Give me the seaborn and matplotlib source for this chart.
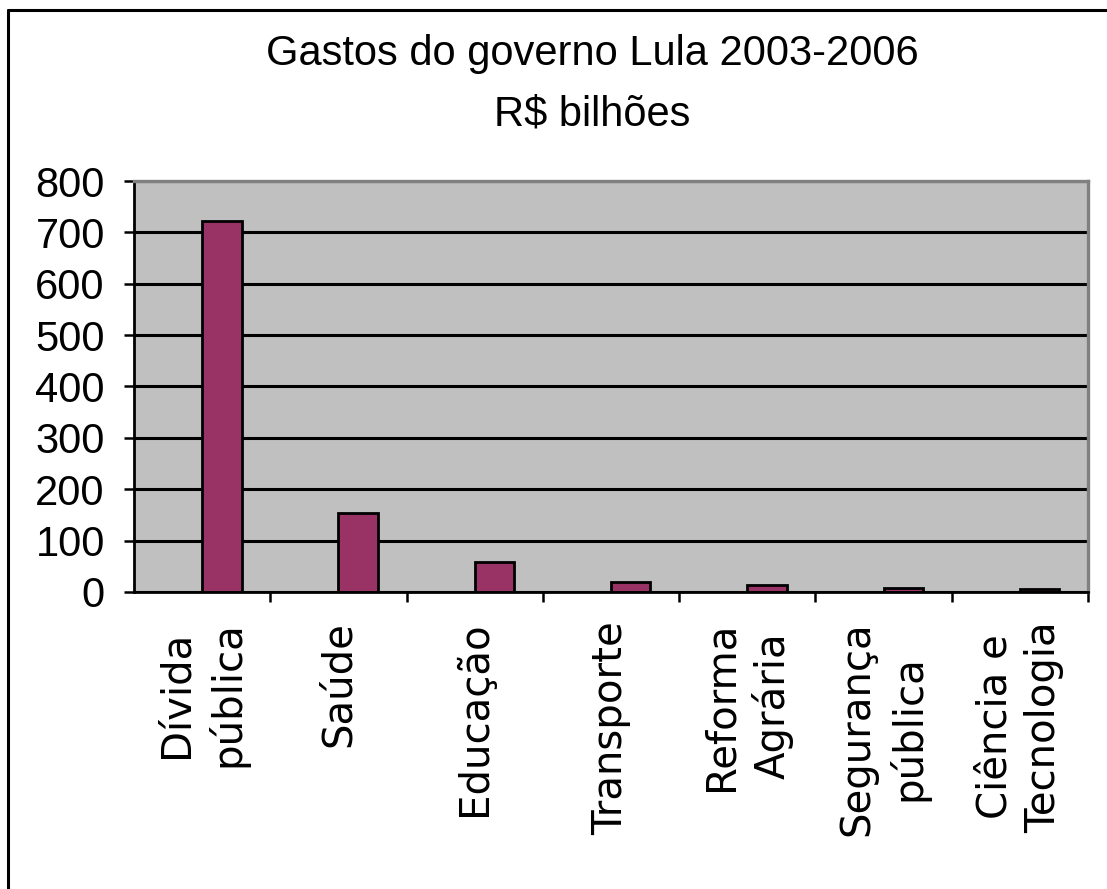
import matplotlib
matplotlib.use('Agg')
import matplotlib.pyplot as plt
from matplotlib.lines import Line2D
import seaborn as sns
import pandas as pd

# Gastos do governo Lula 2003-2006 (R$ bilhoes)
categorias = ['Dívida\npública', 'Saúde', 'Educação', 'Transporte',
              'Reforma\nAgrária', 'Segurança\npública', 'Ciência e\nTecnologia']
gastos = [722, 154, 58, 20, 14, 7, 6]
series = ['Série 1', 'Série 2']   # a serie 1 esta vazia no original
yticks = [0, 100, 200, 300, 400, 500, 600, 700, 800]

sns.set_style('white')
plt.rcParams['text.color'] = 'black'
plt.rcParams['xtick.color'] = 'black'
plt.rcParams['ytick.color'] = 'black'
narrow = ['Liberation Sans Narrow', 'Liberation Sans', 'DejaVu Sans']

df = pd.DataFrame({
    'categoria': categorias * 2,
    'serie': [series[0]] * len(categorias) + [series[1]] * len(categorias),
    'valor': [float('nan')] * len(categorias) + gastos,
})

fig = plt.figure(figsize=(11.07, 8.89), dpi=100)
ax = fig.add_axes([0.1210, 0.3341, 0.8618, 0.4623])
ax.set_facecolor('#c0c0c0')

sns.barplot(data=df, x='categoria', y='valor', hue='serie', hue_order=series,
            order=categorias, palette=['#993366', '#993366'], saturation=1,
            width=0.58, gap=0, edgecolor='black', linewidth=2,
            legend=False, ax=ax)

ax.set_ylim(0, 800)
ax.set_xlim(-0.5, len(categorias) - 0.5)
ax.set_yticks(yticks)
ax.set_yticklabels([str(v) for v in yticks], family=narrow, fontsize=30,
                   color='black')
ax.yaxis.grid(True, color='black', linewidth=2.2)
ax.set_axisbelow(True)

ax.set_xticks(range(len(categorias)))
ax.set_xticklabels(categorias, rotation=90, ha='center', va='top',
                   multialignment='center', linespacing=1.3,
                   family='DejaVu Sans', fontsize=29, color='black')
ax.set_xticks([i + 0.5 for i in range(len(categorias))], minor=True)
ax.tick_params(axis='x', which='major', length=0, pad=21)
ax.tick_params(axis='x', which='minor', length=7, width=1.8,
               direction='out', color='black', bottom=True)
ax.tick_params(axis='y', length=7, width=1.8, direction='out',
               color='black', left=True, pad=14)
ax.set_xlabel('')
ax.set_ylabel('')

for s in ['left', 'bottom']:
    ax.spines[s].set_color('black')
    ax.spines[s].set_linewidth(2)
for s in ['top', 'right']:
    ax.spines[s].set_color('#808080')
    ax.spines[s].set_linewidth(2.4)

fig.text(0.535, 0.9269, 'Gastos do governo Lula 2003-2006', ha='center',
         va='baseline', family=narrow, fontsize=30, color='black')
fig.text(0.535, 0.8583, 'R$ bilhões', ha='center', va='baseline',
         family=narrow, fontsize=30, color='black')

# moldura do grafico (so aparecem o topo e a esquerda)
fig.add_artist(Line2D([0.0072, 0.0072], [-0.1, 0.9888], color='black', linewidth=2.2))
fig.add_artist(Line2D([0.0072, 1.1], [0.9888, 0.9888], color='black', linewidth=2.2))

fig.savefig('out.png', dpi=100)
